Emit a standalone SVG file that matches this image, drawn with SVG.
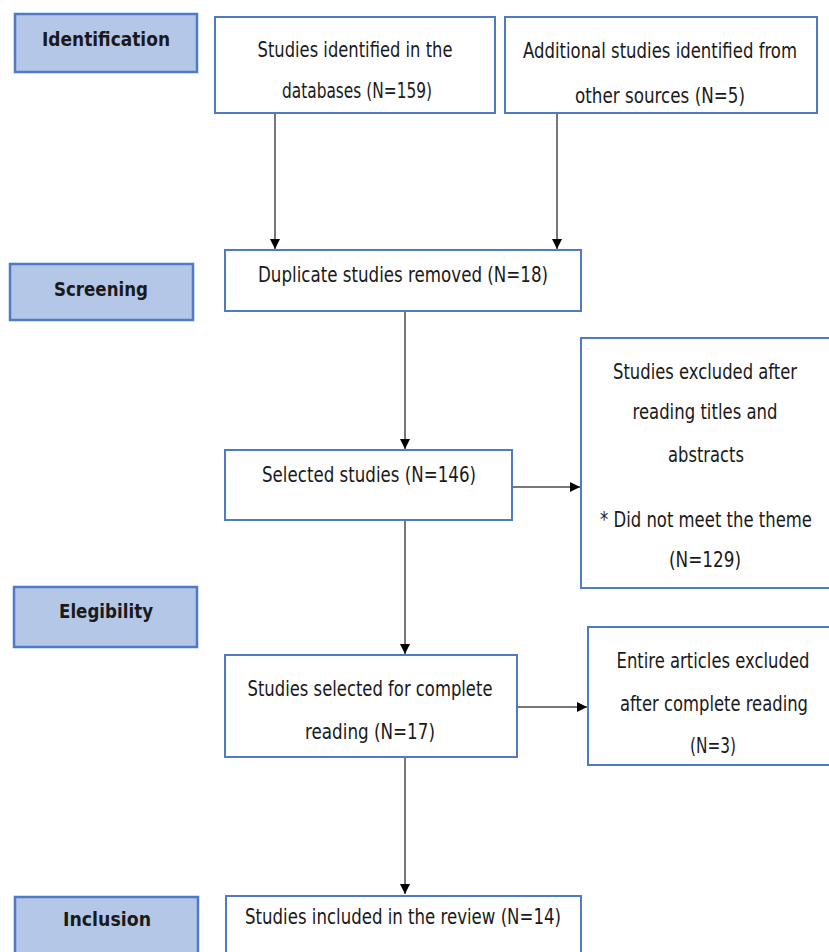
<svg xmlns="http://www.w3.org/2000/svg" width="829" height="952" viewBox="0 0 829 952">
<style>
.lbl{fill:#b4c7e7;stroke:#4f7ac7;stroke-width:2.5}
.box{fill:#ffffff;stroke:#4f7ac7;stroke-width:2}
.t{font-family:"DejaVu Sans Condensed","DejaVu Sans",sans-serif;font-size:18px;fill:#1a1a1a;text-anchor:middle}
.b{font-weight:bold;font-size:20px}
.c{stroke:#4a4a4a;stroke-width:1.5;fill:none}
</style>
<defs>
<marker id="ah" viewBox="0 0 10 10" refX="10" refY="5" markerWidth="10" markerHeight="10" markerUnits="userSpaceOnUse" orient="auto">
<path d="M0,0 L10,5 L0,10 z" fill="#000"/>
</marker>
</defs>
<rect width="829" height="952" fill="#ffffff"/>
<g id="connectors">
<line class="c" x1="275" y1="114" x2="275" y2="249" marker-end="url(#ah)"/>
<line class="c" x1="557" y1="114" x2="557" y2="249" marker-end="url(#ah)"/>
<line class="c" x1="405" y1="312" x2="405" y2="449" marker-end="url(#ah)"/>
<line class="c" x1="513" y1="487" x2="580" y2="487" marker-end="url(#ah)"/>
<line class="c" x1="405" y1="521" x2="405" y2="654" marker-end="url(#ah)"/>
<line class="c" x1="518" y1="707" x2="587" y2="707" marker-end="url(#ah)"/>
<line class="c" x1="405" y1="758" x2="405" y2="894" marker-end="url(#ah)"/>
</g>
<g id="identification">
<rect class="lbl" x="15" y="14" width="182" height="58"/>
<text class="t b" x="106" y="46" textLength="128" lengthAdjust="spacingAndGlyphs">Identification</text>
</g>
<g id="screening">
<rect class="lbl" x="10" y="264" width="183" height="56"/>
<text class="t b" x="101" y="296" textLength="94" lengthAdjust="spacingAndGlyphs">Screening</text>
</g>
<g id="elegibility">
<rect class="lbl" x="14" y="587" width="183" height="60"/>
<text class="t b" x="106" y="618" textLength="94" lengthAdjust="spacingAndGlyphs">Elegibility</text>
</g>
<g id="inclusion">
<rect class="lbl" x="15" y="897" width="183" height="58"/>
<text class="t b" x="107" y="926" textLength="88" lengthAdjust="spacingAndGlyphs">Inclusion</text>
</g>
<g id="databases">
<rect class="box" x="215" y="17" width="280" height="96"/>
<text class="t" transform="translate(355,57) scale(1,1.22)" textLength="195" lengthAdjust="spacingAndGlyphs">Studies identified in the</text>
<text class="t" transform="translate(357,98) scale(1,1.22)" textLength="150" lengthAdjust="spacingAndGlyphs">databases (N=159)</text>
</g>
<g id="other">
<rect class="box" x="505" y="17" width="312" height="96"/>
<text class="t" transform="translate(660,58) scale(1,1.22)" textLength="274" lengthAdjust="spacingAndGlyphs">Additional studies identified from</text>
<text class="t" transform="translate(660,103) scale(1,1.22)" textLength="170" lengthAdjust="spacingAndGlyphs">other sources (N=5)</text>
</g>
<g id="duplicates">
<rect class="box" x="225" y="250" width="356" height="61"/>
<text class="t" transform="translate(403,282) scale(1,1.22)" textLength="290" lengthAdjust="spacingAndGlyphs">Duplicate studies removed (N=18)</text>
</g>
<g id="selected">
<rect class="box" x="225" y="450" width="287" height="70"/>
<text class="t" transform="translate(369,482) scale(1,1.22)" textLength="214" lengthAdjust="spacingAndGlyphs">Selected studies (N=146)</text>
</g>
<g id="excluded1">
<rect class="box" x="581" y="338" width="252" height="250"/>
<text class="t" transform="translate(705,379) scale(1,1.22)" textLength="184" lengthAdjust="spacingAndGlyphs">Studies excluded after</text>
<text class="t" transform="translate(705,419) scale(1,1.22)" textLength="145" lengthAdjust="spacingAndGlyphs">reading titles and</text>
<text class="t" transform="translate(706,462) scale(1,1.22)" textLength="76" lengthAdjust="spacingAndGlyphs">abstracts</text>
<text class="t" transform="translate(706,527) scale(1,1.22)" textLength="212" lengthAdjust="spacingAndGlyphs">* Did not meet the theme</text>
<text class="t" transform="translate(705,567) scale(1,1.22)" textLength="72" lengthAdjust="spacingAndGlyphs">(N=129)</text>
</g>
<g id="fullread">
<rect class="box" x="225" y="655" width="292" height="102"/>
<text class="t" transform="translate(370,696) scale(1,1.22)" textLength="245" lengthAdjust="spacingAndGlyphs">Studies selected for complete</text>
<text class="t" transform="translate(370,739) scale(1,1.22)" textLength="130" lengthAdjust="spacingAndGlyphs">reading (N=17)</text>
</g>
<g id="excluded2">
<rect class="box" x="588" y="627" width="245" height="138"/>
<text class="t" transform="translate(713,668) scale(1,1.22)" textLength="193" lengthAdjust="spacingAndGlyphs">Entire articles excluded</text>
<text class="t" transform="translate(714,711) scale(1,1.22)" textLength="188" lengthAdjust="spacingAndGlyphs">after complete reading</text>
<text class="t" transform="translate(713,753) scale(1,1.22)" textLength="46" lengthAdjust="spacingAndGlyphs">(N=3)</text>
</g>
<g id="included">
<rect class="box" x="226" y="896" width="355" height="60"/>
<text class="t" transform="translate(403,924) scale(1,1.22)" textLength="316" lengthAdjust="spacingAndGlyphs">Studies included in the review (N=14)</text>
</g>
</svg>
